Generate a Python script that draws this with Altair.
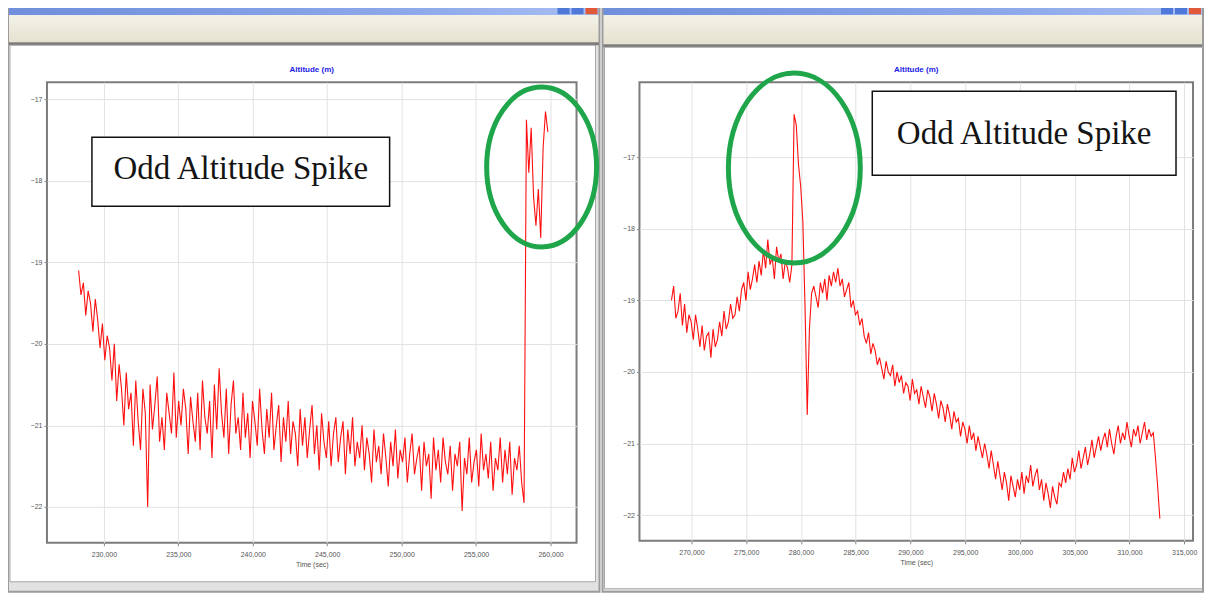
import altair as alt
import pandas as pd

# ---------------- data ----------------
# Left window (Altitude vs Time)
left_t0 = 228300
left_dt = 160
left_alt = [
    -19.10, -19.40, -19.25, -19.65, -19.35, -19.50, -19.85, -19.45, -19.70, -20.05,
    -19.75, -20.20, -19.90, -20.05, -20.45, -20.00, -20.70, -20.25, -20.55, -21.00,
    -20.35, -20.80, -20.60, -21.25, -20.45, -20.95, -21.30, -20.55, -20.85, -22.00,
    -20.50, -21.05, -20.75, -20.40, -21.20, -20.90, -21.30, -20.60, -20.85, -21.10,
    -20.35, -21.15, -20.70, -21.00, -20.55, -20.80, -21.35, -20.65, -20.95, -21.20,
    -20.60, -21.30, -20.45, -20.90, -21.10, -20.70, -21.40, -20.50, -21.05, -20.30,
    -20.85, -21.15, -20.55, -21.35, -20.75, -20.45, -21.10, -20.90, -21.30, -20.60,
    -21.15, -20.85, -21.40, -20.70, -20.95, -21.25, -20.55, -21.05, -21.35, -20.80,
    -21.15, -20.60, -21.30, -21.00, -20.75, -21.45, -20.90, -21.20, -20.70, -21.35,
    -20.95, -21.10, -21.50, -20.80, -21.25, -20.90, -21.40, -21.05, -20.75, -21.35,
    -21.00, -21.55, -20.85, -21.20, -21.40, -20.95, -21.50, -21.10, -20.90, -21.45,
    -21.15, -20.95, -21.60, -21.05, -21.35, -20.90, -21.50, -21.20, -21.40, -21.00,
    -21.55, -21.15, -21.35, -21.70, -21.05, -21.45, -21.25, -21.60, -21.10, -21.40,
    -21.75, -21.20, -21.50, -21.05, -21.65, -21.30, -21.45, -21.15, -21.70, -21.35,
    -21.10, -21.60, -21.40, -21.25, -21.80, -21.20, -21.50, -21.35, -21.90, -21.15,
    -21.55, -21.30, -21.70, -21.15, -21.45, -21.60, -21.25, -21.80, -21.35, -21.50,
    -21.20, -22.05, -21.40, -21.60, -21.15, -21.70, -21.45, -21.30, -21.75, -21.10,
    -21.55, -21.35, -21.65, -21.20, -21.80, -21.40, -21.55, -21.15, -21.70, -21.30,
    -21.60, -21.20, -21.85, -21.40, -21.55, -21.25, -21.70, -21.95,
    -17.25, -17.90, -17.35, -18.20, -18.55, -18.10, -18.70, -17.60, -17.15, -17.40,
]
left_xticks = [230000, 235000, 240000, 245000, 250000, 255000, 260000]
left_yticks = [-22, -21, -20, -19, -18, -17]
left_xdomain = [226175, 261745]
left_ydomain = [-22.44, -16.79]

# Right window
right_t0 = 268175
right_dt = 200
right_alt = [
    -19.00, -18.80, -19.25, -19.15, -18.90, -19.35, -19.05, -19.45, -19.20, -19.30,
    -19.55, -19.20, -19.40, -19.65, -19.35, -19.70, -19.50, -19.45, -19.80, -19.40,
    -19.65, -19.55, -19.30, -19.50, -19.15, -19.40, -19.30, -19.05, -19.25, -19.20,
    -18.95, -19.15, -18.85, -18.75, -19.00, -18.60, -18.85, -18.70, -18.50, -18.75,
    -18.45, -18.65, -18.30, -18.55, -18.15, -18.50, -18.40, -18.70, -18.25, -18.45,
    -18.35, -18.70, -18.45, -18.55, -18.75, -18.50,
    -16.40, -16.55, -17.10, -17.40, -17.90, -19.10, -20.60, -19.40, -18.90,
    -18.80, -18.95, -19.10, -18.75, -18.90, -18.70, -19.00, -18.65, -18.80, -18.60,
    -18.75, -18.55, -18.80, -18.70, -18.95, -18.85, -18.75, -19.10, -19.00, -19.20,
    -19.15, -19.35, -19.25, -19.50, -19.60, -19.45, -19.75, -19.60, -19.70, -19.90,
    -19.80, -19.95, -20.10, -19.85, -20.00, -20.05, -19.90, -20.20, -20.00, -20.15,
    -20.05, -20.30, -20.15, -20.20, -20.40, -20.10, -20.30, -20.25, -20.45, -20.20,
    -20.35, -20.50, -20.25,
    -20.35, -20.55, -20.30, -20.45, -20.65, -20.40, -20.50, -20.70, -20.45, -20.60,
    -20.80, -20.55, -20.70,
    -20.65, -20.90, -20.70, -20.80, -21.00, -20.75, -20.95, -20.85, -21.10, -20.90,
    -21.05,
    -21.20, -21.00, -21.15, -21.35, -21.10, -21.30, -21.50, -21.25, -21.45, -21.65,
    -21.40, -21.55, -21.80, -21.45, -21.60, -21.75, -21.50, -21.65,
    -21.40, -21.70, -21.45, -21.55, -21.30, -21.60, -21.45, -21.35, -21.65, -21.50,
    -21.80, -21.55, -21.70, -21.90, -21.60, -21.75, -21.85, -21.55,
    -21.60, -21.40, -21.55, -21.35, -21.50, -21.20, -21.40, -21.30, -21.10, -21.35,
    -21.20, -21.05, -21.30, -21.15, -20.95, -21.20, -21.05, -20.90,
    -21.10, -20.95, -20.85, -21.05, -20.80, -21.00, -21.15, -20.90, -20.75, -21.00,
    -20.85, -20.95, -20.70, -20.90, -21.05, -20.80, -20.90, -20.75, -21.00, -20.85,
    -20.70, -20.95, -20.80, -20.90,
    -20.85, -21.20, -21.60, -22.05,
]
right_xticks = [270000, 275000, 280000, 285000, 290000, 295000, 300000, 305000, 310000, 315000]
right_yticks = [-22, -21, -20, -19, -18, -17]
right_xdomain = [265255, 315803]
right_ydomain = [-22.36, -15.95]

# annotations (data coordinates)
chart_title = "Altitude (m)"
label_text = "Odd Altitude Spike"
left_box = [229195, 249191, -17.466, -18.311]
left_label_pos = [239193, -17.86]
left_ellipse = [259400, -17.83]
right_box = [286514, 314251, -16.078, -17.251]
right_label_pos = [300383, -16.68]
right_ellipse = [279398, -17.15]

# ---------------- styling ----------------
RED = "#ff1010"
GREEN = "#1fa64b"
one = pd.DataFrame({"d": [0]})


def deco(x, x2, y, y2, **kw):
    return alt.Chart(one).mark_rect(**kw).encode(
        x=alt.value(x), x2=alt.value(x2), y=alt.value(y), y2=alt.value(y2)
    )


def chrome(left, right, bar_bottom, tool_bottom, panel_l, panel_r, panel_b, bottom):
    top = -77
    title_grad = alt.LinearGradient(
        gradient="linear",
        stops=[alt.GradientStop(color="#6f8fdc", offset=0),
               alt.GradientStop(color="#8fa9ea", offset=0.7),
               alt.GradientStop(color="#a9bff2", offset=1)],
        x1=0, x2=1, y1=0, y2=0,
    )
    tool_grad = alt.LinearGradient(
        gradient="linear",
        stops=[alt.GradientStop(color="#f4f2e8", offset=0),
               alt.GradientStop(color="#e6e2d0", offset=1)],
        x1=0, x2=0, y1=0, y2=1,
    )
    layers = [
        deco(left, right, panel_b, bottom, fill="#e2e2e2"),
        deco(left, panel_l, tool_bottom, bottom, fill="#e2e2e2"),
        deco(panel_r, right, tool_bottom, bottom, fill="#e2e2e2"),
        deco(left, right, top, bar_bottom, fill=title_grad),
        deco(right - 42, right - 30, top + 1, bar_bottom - 1, fill="#4f78d8"),
        deco(right - 28, right - 16, top + 1, bar_bottom - 1, fill="#4f78d8"),
        deco(right - 14, right - 2, top + 1, bar_bottom - 1, fill="#e05a3a"),
        deco(left, right, bar_bottom, tool_bottom, fill=tool_grad),
        deco(left, right, tool_bottom, tool_bottom + 3, fill="#7a7a7a"),
        deco(panel_l, panel_r, tool_bottom + 3, panel_b, fillOpacity=0, stroke="#a8a8a8", strokeWidth=1),
        deco(left, right, top + 1, bottom, fillOpacity=0, stroke="#9c9c9c", strokeWidth=2),
    ]
    return layers


def panel(t0, dt, vals, xdomain, ydomain, xticks, yticks, box, lab, ell, ell_ratio,
          ell_half_h, width, height, chrome_layers):
    times = [t0 + dt * i for i in range(len(vals))]
    df = pd.DataFrame({"time": times, "alt": vals})
    xs = alt.Scale(domain=xdomain, nice=False, zero=False)
    ys = alt.Scale(domain=ydomain, nice=False, zero=False)
    xax = alt.Axis(values=xticks, format=",d", title="Time (sec)", grid=True,
                   labelPadding=5, titlePadding=3)
    yax = alt.Axis(values=yticks, format="d", title=None, grid=True)

    line = alt.Chart(df).mark_line(color=RED, strokeWidth=1.1, clip=True).encode(
        x=alt.X("time:Q", scale=xs, axis=xax, title="Time (sec)"),
        y=alt.Y("alt:Q", scale=ys, axis=yax, title=None),
    )
    boxdf = pd.DataFrame({"time": [box[0]], "time2": [box[1]], "alt": [box[2]], "alt2": [box[3]]})
    rect = alt.Chart(boxdf).mark_rect(fill="white", stroke="#111111", strokeWidth=1.5).encode(
        x=alt.X("time:Q", scale=xs, title="Time (sec)"), x2="time2:Q",
        y=alt.Y("alt:Q", scale=ys, title=None), y2="alt2:Q",
    )
    labdf = pd.DataFrame({"time": [lab[0]], "alt": [lab[1]], "txt": [label_text]})
    text = alt.Chart(labdf).mark_text(
        font="Liberation Serif", fontSize=33, color="#141414", align="center", baseline="middle"
    ).encode(
        x=alt.X("time:Q", scale=xs, title="Time (sec)"),
        y=alt.Y("alt:Q", scale=ys, title=None), text="txt:N",
    )
    r = ell_ratio
    path = f"M {-r} 0 A {r} 1 0 1 0 {r} 0 A {r} 1 0 1 0 {-r} 0 Z"
    elldf = pd.DataFrame({"time": [ell[0]], "alt": [ell[1]]})
    ellipse = alt.Chart(elldf).mark_point(
        shape=path, size=(2 * ell_half_h) ** 2, filled=False, stroke=GREEN,
        strokeWidth=5, opacity=1,
    ).encode(
        x=alt.X("time:Q", scale=xs, title="Time (sec)"),
        y=alt.Y("alt:Q", scale=ys, title=None),
    )
    title = alt.Chart(one).mark_text(
        text=chart_title, color="#1a1ae6", fontSize=8, fontWeight="bold",
        align="center", baseline="middle",
    ).encode(x=alt.value(width / 2), y=alt.value(-12))
    return alt.layer(*chrome_layers, line, rect, text, ellipse, title).properties(
        width=width, height=height,
    )


left_chart = panel(left_t0, left_dt, left_alt, left_xdomain, left_ydomain, left_xticks,
                   left_yticks, left_box, left_label_pos, left_ellipse, 55 / 80, 80,
                   530, 461,
                   chrome(-39, 553, -67, -40, -37, 549, 500, 510))
right_chart = panel(right_t0, right_dt, right_alt, right_xdomain, right_ydomain, right_xticks,
                    right_yticks, right_box, right_label_pos, right_ellipse, 66 / 95, 95,
                    554, 459,
                    chrome(-37, 564, -67, -38, -35, 564, 507, 510))

chart = alt.hconcat(left_chart, right_chart, spacing=63, bounds="flush").properties(
    padding={"left": -2, "top": -4, "right": 0, "bottom": 0}
).configure(background="white").configure_view(
    stroke="#7c7c7c", strokeWidth=2
).configure_axis(
    domain=False, tickColor="#888888", tickSize=3, labelFontSize=7, labelColor="#555555",
    labelPadding=2, titleFontSize=7, titleFontWeight="normal", titleColor="#555555",
    titlePadding=2, gridColor="#e2e2e2", gridWidth=1,
)

chart.save("out.html", embed_options={"renderer": "svg", "actions": False})
